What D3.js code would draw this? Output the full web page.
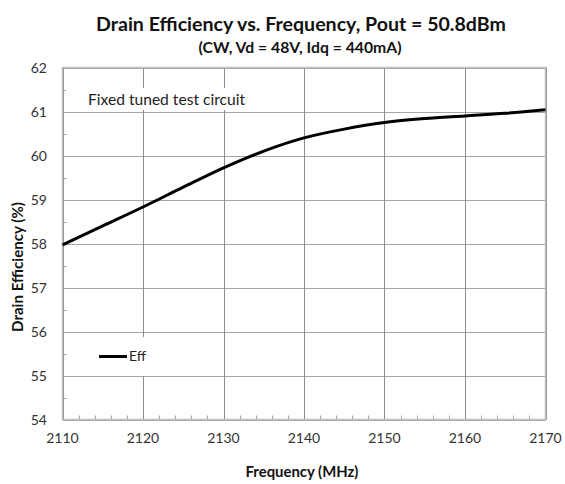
<!DOCTYPE html>
<html>
<head>
<meta charset="utf-8">
<script src="https://cdn.jsdelivr.net/npm/d3@7"></script>
<style>
  html, body { margin: 0; padding: 0; background: #fff; }
  svg { display: block; font-family: Lato, "Open Sans", sans-serif; }
</style>
</head>
<body>
<svg id="chart" width="565" height="484"></svg>
<script>
const frequencies = [2110, 2115, 2120, 2125, 2130, 2135, 2140, 2145, 2150, 2155, 2160, 2165, 2170];
const efficiency  = [57.97, 58.40, 58.83, 59.28, 59.72, 60.10, 60.40, 60.60, 60.75, 60.84, 60.90, 60.96, 61.04];
const xTicks = [2110, 2120, 2130, 2140, 2150, 2160, 2170];
const yTicks = [54, 55, 56, 57, 58, 59, 60, 61, 62];
const seriesName = "Eff";
const titleText = "Drain Efficiency vs. Frequency, Pout = 50.8dBm";
const subtitleText = "(CW, Vd = 48V, Idq = 440mA)";
const xTitle = "Frequency (MHz)";
const yTitle = "Drain Efficiency (%)";
const noteText = "Fixed tuned test circuit";

const svg = d3.select("#chart");
const m = {left: 62.5, right: 545.5, top: 67.5, bottom: 419.5};
const x = d3.scaleLinear().domain([2110, 2170]).range([m.left, m.right]);
const y = d3.scaleLinear().domain([54, 62]).range([m.bottom, m.top]);

// scale a text's font size so that it spans a given width
function fit(sel, width) {
  const node = sel.node();
  const fs = parseFloat(sel.attr("font-size"));
  const w = node.getComputedTextLength();
  if (w > 0) sel.attr("font-size", (fs * width / w).toFixed(2));
  return sel;
}

// gridlines
svg.append("g").selectAll("line").data(yTicks).join("line")
  .attr("x1", m.left).attr("x2", m.right)
  .attr("y1", d => Math.round(y(d)) + 0.5).attr("y2", d => Math.round(y(d)) + 0.5)
  .attr("stroke", "#a6a6a6").attr("stroke-width", 1);
svg.append("g").selectAll("line").data(xTicks).join("line")
  .attr("x1", d => Math.round(x(d)) + 0.5).attr("x2", d => Math.round(x(d)) + 0.5)
  .attr("y1", m.top).attr("y2", m.bottom)
  .attr("stroke", "#8c8c8c").attr("stroke-width", 1);

// minor ticks
const xMinor = d3.range(2112, 2170, 2).filter(v => v % 10 !== 0);
svg.append("g").selectAll("line").data(xMinor).join("line")
  .attr("x1", d => Math.round(x(d)) + 0.5).attr("x2", d => Math.round(x(d)) + 0.5)
  .attr("y1", m.bottom).attr("y2", m.bottom - 4)
  .attr("stroke", "#a6a6a6");
const yMinor = d3.range(54.5, 62, 1);
svg.append("g").selectAll("line").data(yMinor).join("line")
  .attr("x1", m.left).attr("x2", m.left + 4)
  .attr("y1", d => Math.round(y(d)) + 0.5).attr("y2", d => Math.round(y(d)) + 0.5)
  .attr("stroke", "#a6a6a6");

// note box
svg.append("rect").attr("x", 66).attr("y", 88).attr("width", 186).attr("height", 22).attr("fill", "#fff");
fit(svg.append("text").attr("x", 88).attr("y", 105).attr("font-size", 14).attr("fill", "#222").text(noteText), 157);

// legend box
svg.append("rect").attr("x", 73).attr("y", 337).attr("width", 95).attr("height", 39).attr("fill", "#fff");
svg.append("line").attr("x1", 99).attr("x2", 127).attr("y1", 356.5).attr("y2", 356.5)
  .attr("stroke", "#000").attr("stroke-width", 3);
svg.append("text").attr("x", 129).attr("y", 361).attr("font-size", 14).attr("fill", "#222").text(seriesName);

// border
svg.append("rect").attr("x", m.left).attr("y", m.top)
  .attr("width", m.right - m.left).attr("height", m.bottom - m.top)
  .attr("fill", "none").attr("stroke", "#bfbfbf").attr("stroke-width", 1.5);

// line
const pts = frequencies.map((f, i) => [f, efficiency[i]]);
svg.append("path").datum(pts)
  .attr("d", d3.line().x(d => x(d[0])).y(d => y(d[1])).curve(d3.curveMonotoneX))
  .attr("fill", "none").attr("stroke", "#000").attr("stroke-width", 3);

// axes labels
svg.append("g").selectAll("text").data(yTicks).join("text")
  .attr("x", 47).attr("y", d => y(d) + 5).attr("text-anchor", "end")
  .attr("font-size", 14).attr("fill", "#333").text(d => d);
svg.append("g").selectAll("text").data(xTicks).join("text")
  .attr("x", d => x(d)).attr("y", 443).attr("text-anchor", "middle")
  .attr("font-size", 14).attr("fill", "#333").text(d => d);

// titles
fit(svg.append("text").attr("x", 301).attr("y", 31).attr("text-anchor", "middle")
  .attr("font-size", 18).attr("font-weight", "bold").attr("fill", "#111").text(titleText), 410);
fit(svg.append("text").attr("x", 300).attr("y", 53).attr("text-anchor", "middle")
  .attr("font-size", 14).attr("font-weight", "bold").attr("fill", "#111").text(subtitleText), 203);
fit(svg.append("text").attr("x", 302).attr("y", 477).attr("text-anchor", "middle")
  .attr("font-size", 14).attr("font-weight", "bold").attr("fill", "#111").text(xTitle), 113);
fit(svg.append("text").attr("transform", "translate(23,267) rotate(-90)").attr("text-anchor", "middle")
  .attr("font-size", 14).attr("font-weight", "bold").attr("fill", "#111").text(yTitle), 130);
</script>
</body>
</html>
